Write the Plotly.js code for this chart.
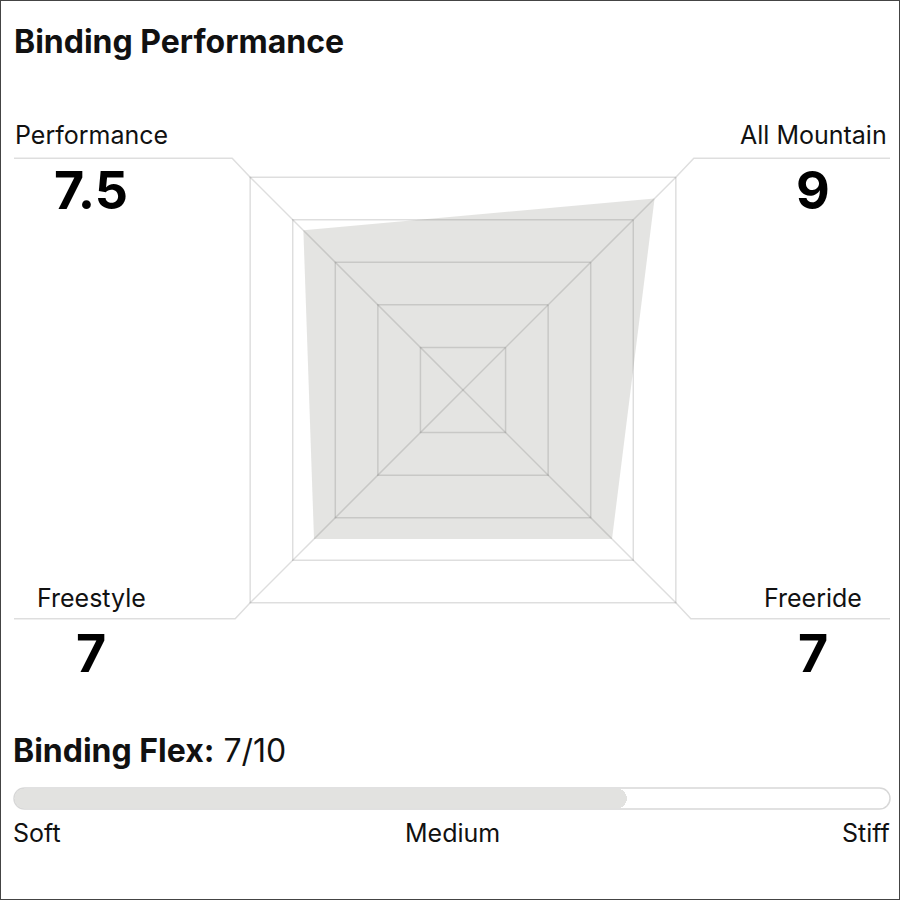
<!DOCTYPE html>
<html>
<head>
<meta charset="utf-8">
<script src="https://cdn.plot.ly/plotly-3.0.1.min.js"></script>
<style>
  html, body { margin: 0; padding: 0; background: #fff; }
  #chart { width: 900px; height: 900px; }
</style>
</head>
<body>
<div id="chart"></div>
<script>
// ---- data ----
const categories = ["All Mountain", "Performance", "Freestyle", "Freeride"];
const scores = [9, 7.5, 7, 7];
const scoreMax = 10;
const flexValue = 7;
const flexMax = 10;
const flexLabels = ["Soft", "Medium", "Stiff"];

// ---- helpers (layout only) ----
const W = 900, H = 900;
const px = x => x / W;
const py = y => 1 - y / H;
const FONT = "Inter, 'Noto Sans', sans-serif";
const INK = "#111111";
const GRID = "rgba(0,0,0,0.13)";

// radar geometry: centre and circumscribed radius (pixels)
const cx = 463, cy = 390, R = 301;

const radarTrace = {
  type: "scatterpolar",
  r: scores.concat([scores[0]]),
  theta: categories.concat([categories[0]]),
  mode: "lines",
  fill: "toself",
  fillcolor: "rgba(75,75,62,0.15)",
  line: { width: 0, color: "rgba(0,0,0,0)" },
  hoverinfo: "skip",
  showlegend: false,
  subplot: "polar"
};

const flexFill = {
  type: "bar", orientation: "h",
  x: [flexValue], y: [0], base: [0], width: [1],
  marker: { color: "#e2e2e0", line: { width: 0 }, cornerradius: 10 },
  hoverinfo: "skip", showlegend: false, xaxis: "x", yaxis: "y"
};

// label positions (pixel placement of text, per category)
const labelPos = {
  "Performance":  { x: 91,  yl: 135, yv: 190 },
  "All Mountain": { x: 813, yl: 135, yv: 190 },
  "Freestyle":    { x: 91,  yl: 598, yv: 653 },
  "Freeride":     { x: 813, yl: 598, yv: 653 }
};

const annotations = [];
categories.forEach((c, i) => {
  const p = labelPos[c];
  annotations.push({
    text: c, x: px(p.x), y: py(p.yl), xref: "paper", yref: "paper",
    xanchor: "center", yanchor: "middle", showarrow: false,
    font: { family: FONT, size: 25, color: INK }
  });
  annotations.push({
    text: "<b>" + scores[i] + "</b>", x: px(p.x), y: py(p.yv), xref: "paper", yref: "paper",
    xanchor: "center", yanchor: "middle", showarrow: false,
    font: { family: FONT, size: 52, color: "#000" }
  });
});
annotations.push({
  text: "<b>Binding Flex:</b> " + flexValue + "/" + flexMax,
  x: px(11), y: py(750), xref: "paper", yref: "paper",
  xanchor: "left", yanchor: "middle", showarrow: false,
  font: { family: FONT, size: 32, color: INK }
});
const flexLabelX = [11, 452, 892];
const flexLabelAnchor = ["left", "center", "right"];
flexLabels.forEach((t, i) => {
  annotations.push({
    text: t, x: px(flexLabelX[i]), y: py(833), xref: "paper", yref: "paper",
    xanchor: flexLabelAnchor[i], yanchor: "middle", showarrow: false,
    font: { family: FONT, size: 25, color: INK }
  });
});

// leader lines from outer corners to label rules
const half = R / Math.SQRT2;
const corners = {
  tl: [cx - half, cy - half], tr: [cx + half, cy - half],
  bl: [cx - half, cy + half], br: [cx + half, cy + half]
};
function lead(c, dx, dy, xend) {
  const x1 = c[0] + dx, y1 = c[1] + dy;
  return {
    type: "path", xref: "paper", yref: "paper",
    path: `M ${px(c[0])} ${py(c[1])} L ${px(x1)} ${py(y1)} L ${px(xend)} ${py(y1)}`,
    line: { color: GRID, width: 1.5 }
  };
}
// rounded track outline for the flex bar
function pill(x0, x1, y0, y1) {
  const r = (y1 - y0) / 2, ym = (y0 + y1) / 2, k = 0.5523 * r;
  const P = (x, y) => `${px(x)} ${py(y)}`;
  return `M ${P(x0 + r, y0)} L ${P(x1 - r, y0)} ` +
    `C ${P(x1 - r + k, y0)} ${P(x1, ym - k)} ${P(x1, ym)} ` +
    `C ${P(x1, ym + k)} ${P(x1 - r + k, y1)} ${P(x1 - r, y1)} ` +
    `L ${P(x0 + r, y1)} ` +
    `C ${P(x0 + r - k, y1)} ${P(x0, ym + k)} ${P(x0, ym)} ` +
    `C ${P(x0, ym - k)} ${P(x0 + r - k, y0)} ${P(x0 + r, y0)} Z`;
}
const shapes = [
  lead(corners.tl, -18, -19, 14),
  lead(corners.tr, 18, -19, 890),
  lead(corners.bl, -15, 16, 14),
  lead(corners.br, 15, 16, 890),
  { type: "path", xref: "paper", yref: "paper", layer: "below",
    path: pill(14, 890, 788, 809), fillcolor: "#ffffff",
    line: { color: "#d8d8d8", width: 1.5 } },
  { type: "rect", xref: "paper", yref: "paper", x0: 0, x1: 1, y0: 0, y1: 1,
    line: { color: "#444", width: 2 } }
];

const layout = {
  width: W, height: H,
  margin: { l: 0, r: 0, t: 0, b: 0 },
  paper_bgcolor: "#fff",
  plot_bgcolor: "rgba(0,0,0,0)",
  showlegend: false,
  title: {
    text: "<b>Binding Performance</b>",
    x: px(14), xanchor: "left", y: py(42), yanchor: "middle",
    font: { family: FONT, size: 32, color: INK }
  },
  polar: {
    domain: { x: [px(cx - R), px(cx + R)], y: [py(cy + R), py(cy - R)] },
    gridshape: "linear",
    bgcolor: "rgba(0,0,0,0)",
    radialaxis: {
      range: [0, scoreMax], dtick: 2, showticklabels: false, ticks: "",
      showline: false, gridcolor: GRID, gridwidth: 1.5
    },
    angularaxis: {
      type: "category", categoryarray: categories, rotation: 45,
      direction: "counterclockwise", showticklabels: false, ticks: "",
      gridcolor: GRID, gridwidth: 1.5, linecolor: GRID, linewidth: 1.5, showline: true
    }
  },
  xaxis: { domain: [px(14.5), px(889.5)], range: [0, flexMax], visible: false, fixedrange: true },
  yaxis: { domain: [py(808.5), py(788.5)], range: [-0.5, 0.5], visible: false, fixedrange: true },
  barmode: "overlay",
  bargap: 0,
  annotations: annotations,
  shapes: shapes
};

Plotly.newPlot("chart", [radarTrace, flexFill], layout, { displayModeBar: false, staticPlot: true });
</script>
</body>
</html>
